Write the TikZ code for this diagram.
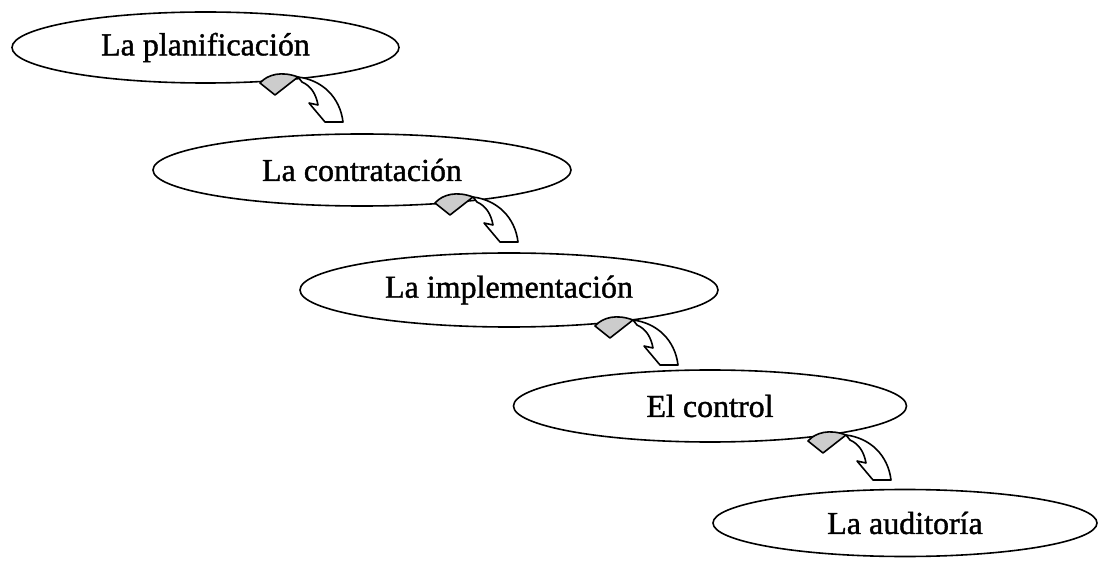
\documentclass[tikz,border=0pt]{standalone}
\usepackage{fontspec}
\setmainfont{Liberation Serif}[FakeBold=1.2]
\usetikzlibrary{shapes.geometric}
\tikzset{
  stage/.style={draw=black, line width=1.6pt, ellipse, inner sep=0pt,
    font=\fontsize{32}{36}\selectfont},
  arrowline/.style={draw=black, line width=1.6pt, line join=round},
  bentarrow/.pic={
    \path[arrowline, fill=gray!40] (0,0) .. controls (8,-9) and (22,-12) .. (38,-6) -- (15,12) -- cycle;
    \path[arrowline, fill=white] (38,-6) .. controls (62,-3) and (80,14) .. (83,39)
      -- (65,39) -- (49,20) -- (58,22) .. controls (56,11) and (51,3) .. (42,-1) -- cycle;
  }
}
\begin{document}
\begin{tikzpicture}[x=1pt,y=-1pt]
\useasboundingbox (0,0) rectangle (1098,561);
\node[stage, minimum width=387pt, minimum height=71pt] (e1) at (205.5,47.5) {La planificación};
\node[stage, minimum width=418pt, minimum height=72pt] (e2) at (362,170) {La contratación};
\node[stage, minimum width=418pt, minimum height=74pt] (e3) at (509,290) {La implementación};
\node[stage, minimum width=393pt, minimum height=72pt] (e4) at (710,406) {El control};
\node[stage, minimum width=384pt, minimum height=67pt] (e5) at (905,523) {La auditoría};
\coordinate (a1) at (260,83);
\coordinate (a2) at (435,203);
\coordinate (a3) at (595,326);
\coordinate (a4) at (808,441);
\pic at (a1) {bentarrow};
\pic at (a2) {bentarrow};
\pic at (a3) {bentarrow};
\pic at (a4) {bentarrow};
\end{tikzpicture}
\end{document}
